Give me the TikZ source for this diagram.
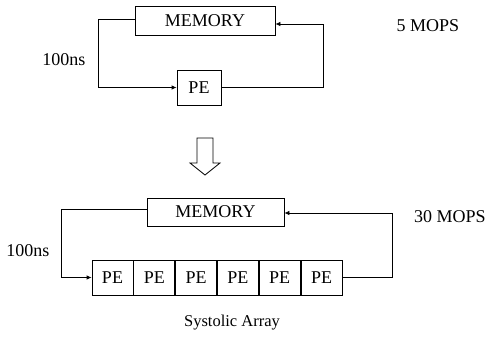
\documentclass[tikz,border=0pt]{standalone}
\usepackage{fontspec}
\setmainfont{Liberation Serif}
\usepackage{tikz}
\usetikzlibrary{arrows.meta,positioning}

\begin{document}
\begin{tikzpicture}[x=1pt,y=-1pt,font=\fontsize{18}{21}\selectfont,>={Latex[length=5pt,width=4.5pt]},line width=0.8pt]
  \tikzset{box/.style={draw,inner sep=0pt,minimum height=29pt},
           pebox/.style={draw,inner sep=0pt,minimum width=41pt,minimum height=35pt}}
  \useasboundingbox (0,0) rectangle (490,339);
  % single processor
  \node[box,minimum width=140pt] (mem1) at (205,20.5) {MEMORY};
  \node[pebox,minimum width=44pt] (pe1) at (199,87.5) {PE};
  \draw[->] ([yshift=1.5pt]mem1.west) -- ++(-36,0) |- (pe1.west);
  \draw[->] (pe1.east) -- ++(102,0) |- ([yshift=-3.5pt]mem1.east);
  \node (ns1) at (64,60) {100ns};
  \node (mops1) at (428,26) {5 MOPS};
  % hollow arrow
  \draw (197,138) -- (213,138) -- (213,163) -- (220,163) -- (205,175)
        -- (190,163) -- (197,163) -- cycle;
  % systolic array
  \node[box,minimum width=137pt,minimum height=28pt] (mem2) at (215.5,212) {MEMORY};
  \node[pebox] (pe1x) at (112.5,277.5) {PE};
  \foreach \i [remember=\i as \j (initially 1)] in {2,...,6}
    \node[pebox,right=0pt of pe\j x] (pe\i x) {PE};
  \draw[->] ([yshift=3pt]mem2.west) -- ++(-85,0) |- (pe1x.west);
  \draw[->] (pe6x.east) -- ++(50,0) |- ([yshift=-1pt]mem2.east);
  \node (ns2) at (28,251) {100ns};
  \node (mops2) at (450,217) {30 MOPS};
  \node[font=\fontsize{16.5}{20}\selectfont] (cap) at (232,323) {Systolic Array};
\end{tikzpicture}
\end{document}
